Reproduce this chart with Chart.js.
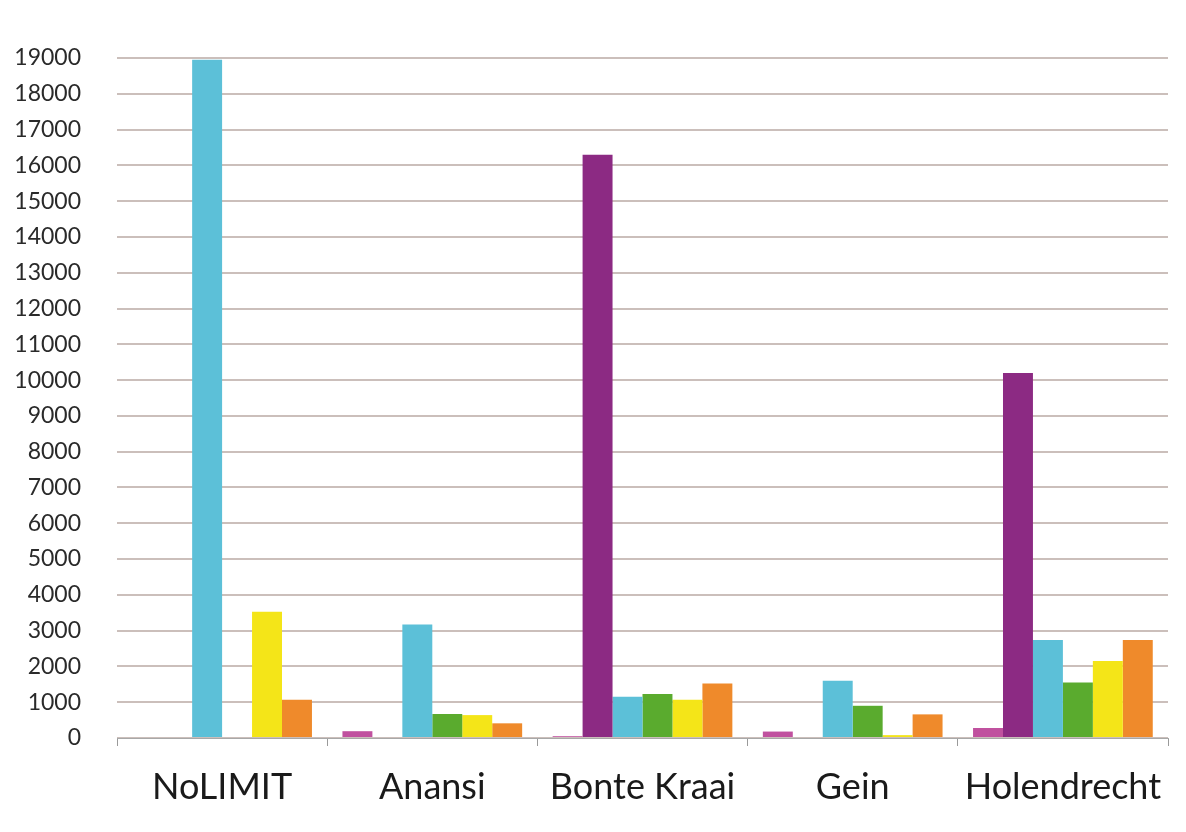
<!DOCTYPE html>
<html><head><meta charset="utf-8">
<script src="https://cdn.jsdelivr.net/npm/chart.js@4/dist/chart.umd.min.js"></script>
<style>html,body{margin:0;padding:0;background:#fff}#wrap{width:1186px;height:832px;position:relative}</style>
</head><body><div id="wrap"><canvas id="c"></canvas></div>
<script>
const categories = ["NoLIMIT", "Anansi", "Bonte Kraai", "Gein", "Holendrecht"];
const pinkValues   = [0, 190, 50, 180, 280];
const purpleValues = [0, 0, 16300, 0, 10200];
const cyanValues   = [18950, 3170, 1150, 1600, 2740];
const greenValues  = [0, 670, 1230, 900, 1550];
const yellowValues = [3530, 640, 1070, 80, 2150];
const orangeValues = [1070, 410, 1520, 660, 2740];
const yTicks = [0,1000,2000,3000,4000,5000,6000,7000,8000,9000,10000,11000,12000,13000,14000,15000,16000,17000,18000,19000];

const series = [
  {label:"pink", data:pinkValues, color:"#c0519f"},
  {label:"purple", data:purpleValues, color:"#8c2a83"},
  {label:"cyan", data:cyanValues, color:"#5cc0d8"},
  {label:"green", data:greenValues, color:"#5aab2e"},
  {label:"yellow", data:yellowValues, color:"#f4e518"},
  {label:"orange", data:orangeValues, color:"#ef8a2b"}
];

new Chart(document.getElementById('c'), {
  type:'bar',
  data:{labels:categories, datasets:series.map(s=>({label:s.label,data:s.data,backgroundColor:s.color,borderWidth:0,barPercentage:1,categoryPercentage:0.855}))},
  options:{
    responsive:true, maintainAspectRatio:false, animation:false,
    layout:{padding:{top:58,right:18,left:8,bottom:0}},
    plugins:{legend:{display:false},tooltip:{enabled:false}},
    scales:{
      x:{
        afterFit:(ax)=>{ax.height=94;},
        grid:{display:true,offset:true,drawOnChartArea:false,drawTicks:true,tickLength:8,color:'#9a9a9a'},
        border:{display:true,color:'#a8a8a8',width:1},
        ticks:{color:'#1a1a1a',font:{family:'Lato',size:36},padding:20}
      },
      y:{
        min:0,max:19000,
        afterBuildTicks:(ax)=>{ax.ticks=yTicks.map(v=>({value:v}));},
        afterFit:(ax)=>{ax.width=109;},
        grid:{color:'#cbbfbb',lineWidth:2,drawTicks:false},
        border:{display:false},
        ticks:{color:'#2a2a2a',font:{family:'Lato',size:23},padding:36,callback:(v)=>String(v)}
      }
    }
  }
});
</script></body></html>
